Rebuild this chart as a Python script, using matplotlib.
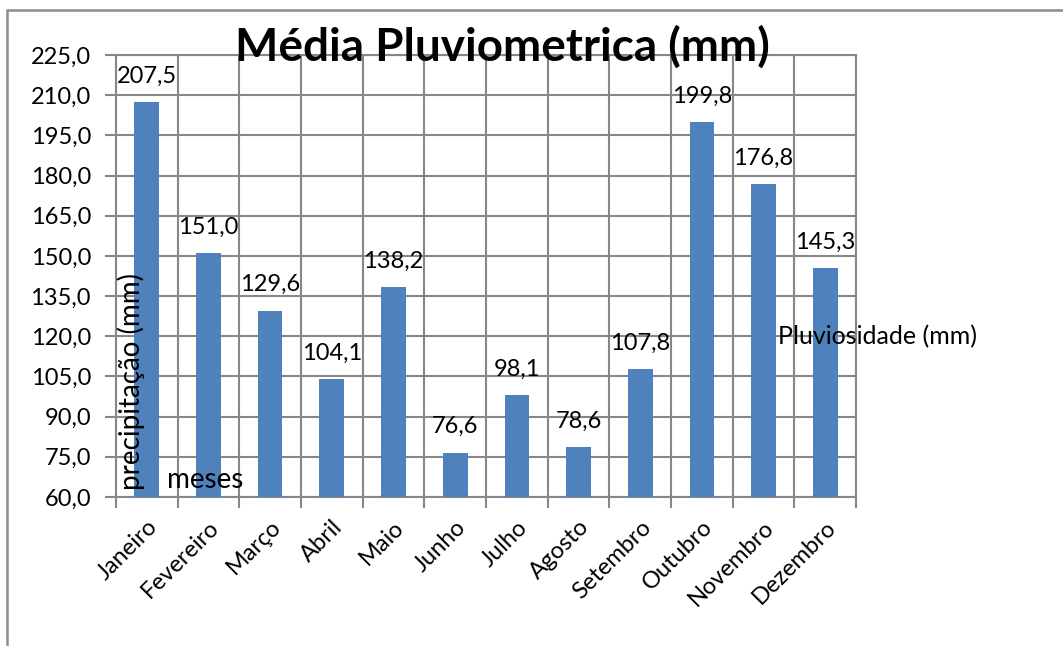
import matplotlib.pyplot as plt
import matplotlib.patches as mpatches
import matplotlib.transforms as mtransforms
import numpy as np

plt.rcParams['font.family'] = ['Lato', 'DejaVu Sans']

meses = ['Janeiro', 'Fevereiro', 'Março', 'Abril', 'Maio', 'Junho',
         'Julho', 'Agosto', 'Setembro', 'Outubro', 'Novembro', 'Dezembro']
chuva = [207.5, 151.0, 129.6, 104.1, 138.2, 76.6,
         98.1, 78.6, 107.8, 199.8, 176.8, 145.3]
y_ticks = [60, 75, 90, 105, 120, 135, 150, 165, 180, 195, 210, 225]

grid_cor = '#878787'
barra_cor = '#4F81BD'

fig = plt.figure(figsize=(10.63, 6.46), dpi=100)
ax = fig.add_axes([0.1091, 0.2307, 0.6962, 0.6842])

# moldura do grafico
fig.patches.append(mpatches.Rectangle((7 / 1063, -0.1), 1.2, (646 - 10) / 646 + 0.1,
                                      transform=fig.transFigure, fill=False,
                                      edgecolor='#8c8c8c', linewidth=1.8))

x = np.arange(len(meses))
ax.bar(x, chuva, width=0.4, color=barra_cor, zorder=3)

ax.set_xlim(-0.5, len(meses) - 0.5)
ax.set_ylim(60, 225)
ax.set_yticks(y_ticks)
ax.set_yticklabels([('%.1f' % v).replace('.', ',') for v in y_ticks], fontsize=17)

# grade vertical entre as categorias
ax.set_xticks(np.arange(-0.5, len(meses)), minor=False)
ax.set_xticklabels([])
ax.set_xticks(x, minor=True)
ax.set_xticklabels(meses, minor=True, rotation=45, ha='right', va='top',
                   rotation_mode='anchor', fontsize=17)
desloca = mtransforms.ScaledTranslation(-5 / 100, 0, fig.dpi_scale_trans)
for lbl in ax.get_xticklabels(minor=True):
    lbl.set_transform(lbl.get_transform() + desloca)
ax.tick_params(axis='x', which='minor', length=0, pad=14)
ax.tick_params(axis='x', which='major', length=8, color=grid_cor, width=1.5)
ax.tick_params(axis='y', length=8, color=grid_cor, width=1.5, pad=10)

ax.grid(True, which='major', color=grid_cor, linewidth=1.5, zorder=0)
ax.set_axisbelow(True)
for s in ax.spines.values():
    s.set_color(grid_cor)
    s.set_linewidth(1.5)

for xi, v in zip(x, chuva):
    ax.annotate(('%.1f' % v).replace('.', ','), (xi, v), xytext=(0, 11),
                textcoords='offset points', ha='center', va='bottom', fontsize=17)

fig.text(502 / 1063, 1 - 47 / 646, 'Média Pluviometrica (mm)', ha='center', va='center',
         fontsize=33, fontweight='bold')
fig.text(131 / 1063, 1 - 381 / 646, 'precipitação (mm)', rotation=90, ha='center',
         va='center', fontsize=20)
fig.text(167 / 1063, 1 - 480 / 646, 'meses', ha='left', va='center', fontsize=20)
fig.text(778 / 1063, 1 - 337 / 646, 'Pluviosidade (mm)', ha='left', va='center', fontsize=18)

plt.savefig('out.png', dpi=100)
